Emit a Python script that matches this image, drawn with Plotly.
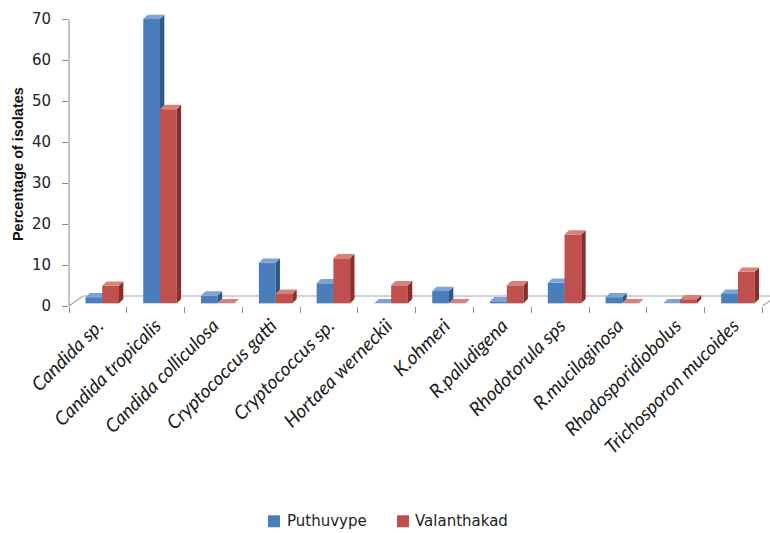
import plotly.graph_objects as go

# Yeast isolates per site (% of isolates)
species = [
    "Candida sp.", "Candida tropicalis", "Candida colliculosa", "Cryptococcus gatti",
    "Cryptococcus sp.", "Hortaea werneckii", "K.ohmeri", "R.paludigena",
    "Rhodotorula sps", "R.mucilaginosa", "Rhodosporidiobolus", "Trichosporon mucoides",
]
puthuvype = [1.5, 69.4, 1.9, 9.9, 4.9, 0.0, 3.0, 0.5, 5.0, 1.5, 0.0, 2.3]
valanthakad = [4.3, 47.4, 0.0, 2.3, 11.0, 4.4, 0.0, 4.4, 16.8, 0.0, 1.0, 7.7]
y_ticks = [0, 10, 20, 30, 40, 50, 60, 70]

# pseudo-3D geometry (axis units)
BASE = 0.65          # bars sit slightly back on the floor
BAR_W = 0.29
DX, DY = 0.075, 1.05  # depth of each column
FLOOR_DX, FLOOR_DY = 0.243, 2.44
X_MIN, X_MAX = -0.5, 11.63

series = [
    dict(name="Puthuvype", vals=puthuvype, offset=-0.215,
         front="#4A7EBB", top="#7DA3D6", side="#2E5687"),
    dict(name="Valanthakad", vals=valanthakad, offset=0.075,
         front="#C0504D", top="#D9807D", side="#8A2E2B"),
]

idx = list(range(len(species)))
fig = go.Figure()

for k, s in enumerate(series):
    z = 2 * k
    fig.add_trace(go.Bar(
        x=idx, y=s["vals"], base=BASE, width=BAR_W, offset=s["offset"],
        name=s["name"], marker=dict(color=s["front"], line=dict(width=0)),
        zorder=z, showlegend=False,
    ))
    tx, ty, sx, sy = [], [], [], []
    for i, v in zip(idx, s["vals"]):
        xl = i + s["offset"]
        xr = xl + BAR_W
        yt = BASE + v
        tx += [xl, xr, xr + DX, xl + DX, xl, None]
        ty += [yt, yt, yt + DY, yt + DY, yt, None]
        sx += [xr, xr, xr + DX, xr + DX, xr, None]
        sy += [BASE, yt, yt + DY, BASE + DY, BASE, None]
    fig.add_trace(go.Scatter(x=sx, y=sy, mode="lines", fill="toself",
                             fillcolor=s["side"], line=dict(width=0),
                             showlegend=False, hoverinfo="skip", zorder=z + 1))
    fig.add_trace(go.Scatter(x=tx, y=ty, mode="lines", fill="toself",
                             fillcolor=s["top"], line=dict(width=0),
                             showlegend=False, hoverinfo="skip", zorder=z + 1))

axis_grey = "#8C8C8C"
floor_grey = "#A6A6A6"
shapes = [
    # value axis
    dict(type="line", xref="paper", yref="y", x0=0, x1=0, y0=0, y1=70,
         line=dict(color=axis_grey, width=1)),
    # floor: front edge, back edge, side edges
    dict(type="line", xref="x", yref="y", x0=X_MIN, x1=11.5, y0=-0.15, y1=-0.15,
         line=dict(color=axis_grey, width=1.2), layer="below"),
    dict(type="line", xref="x", yref="y", x0=X_MIN + FLOOR_DX, x1=11.5 + FLOOR_DX,
         y0=FLOOR_DY, y1=FLOOR_DY, line=dict(color=floor_grey, width=1.2), layer="below"),
    dict(type="line", xref="x", yref="y", x0=X_MIN, x1=X_MIN + FLOOR_DX,
         y0=0, y1=FLOOR_DY, line=dict(color=floor_grey, width=1.2), layer="below"),
    dict(type="line", xref="x", yref="y", x0=11.5, x1=11.5 + FLOOR_DX,
         y0=0, y1=FLOOR_DY, line=dict(color=floor_grey, width=1.2), layer="below"),
]

# legend: coloured key squares followed by the series names
annotations = [dict(
    text="<b>Percentage of isolates</b>", xref="paper", yref="paper",
    x=-0.0728, y=0.481, xanchor="center", yanchor="middle", textangle=-90,
    showarrow=False,
    font=dict(family="Liberation Sans", size=14.5, color="#111111"),
)]
legend_pos = [(268, 285), (397, 413)]   # (key left, label left) in pixels
PLOT_L, PLOT_W = 69, 701
for s, (kx, lx) in zip(series, legend_pos):
    shapes.append(dict(type="rect", xref="paper", yref="paper",
                       x0=(kx - PLOT_L) / PLOT_W, x1=(kx + 12 - PLOT_L) / PLOT_W,
                       y0=(306 - 528) / 296, y1=(306 - 516) / 296,
                       fillcolor=s["front"], line=dict(width=0)))
    annotations.append(dict(text=s["name"], xref="paper", yref="paper",
                            x=(lx - PLOT_L) / PLOT_W, y=(306 - 522) / 296,
                            xanchor="left", yanchor="middle", showarrow=False,
                            font=dict(family="DejaVu Sans", size=15, color="#222222")))

fig.update_layout(
    width=770, height=533,
    margin=dict(l=PLOT_L, r=0, t=11, b=227),
    paper_bgcolor="white", plot_bgcolor="white",
    barmode="overlay",
    shapes=shapes,
    annotations=annotations,
    showlegend=False,
)

fig.update_xaxes(
    range=[X_MIN, X_MAX], tickmode="array", tickvals=idx, ticktext=species,
    tickangle=-45, ticks="", showgrid=False, zeroline=False, showline=False,
    ticklabelstandoff=4,
    tickfont=dict(family="Lato", size=19, style="italic", color="#1A1A1A"),
    minor=dict(tickmode="array", tickvals=[i - 0.5 for i in range(len(species) + 1)],
               ticks="outside", ticklen=6, tickcolor=axis_grey, tickwidth=1),
)
fig.update_yaxes(
    range=[0, 72], tickmode="array", tickvals=y_ticks,
    ticks="outside", ticklen=6, tickcolor=axis_grey, showgrid=False,
    zeroline=False, showline=False, ticklabelstandoff=8,
    tickfont=dict(family="DejaVu Sans", size=15, color="#222222"),
)

fig.write_html("out.html")
